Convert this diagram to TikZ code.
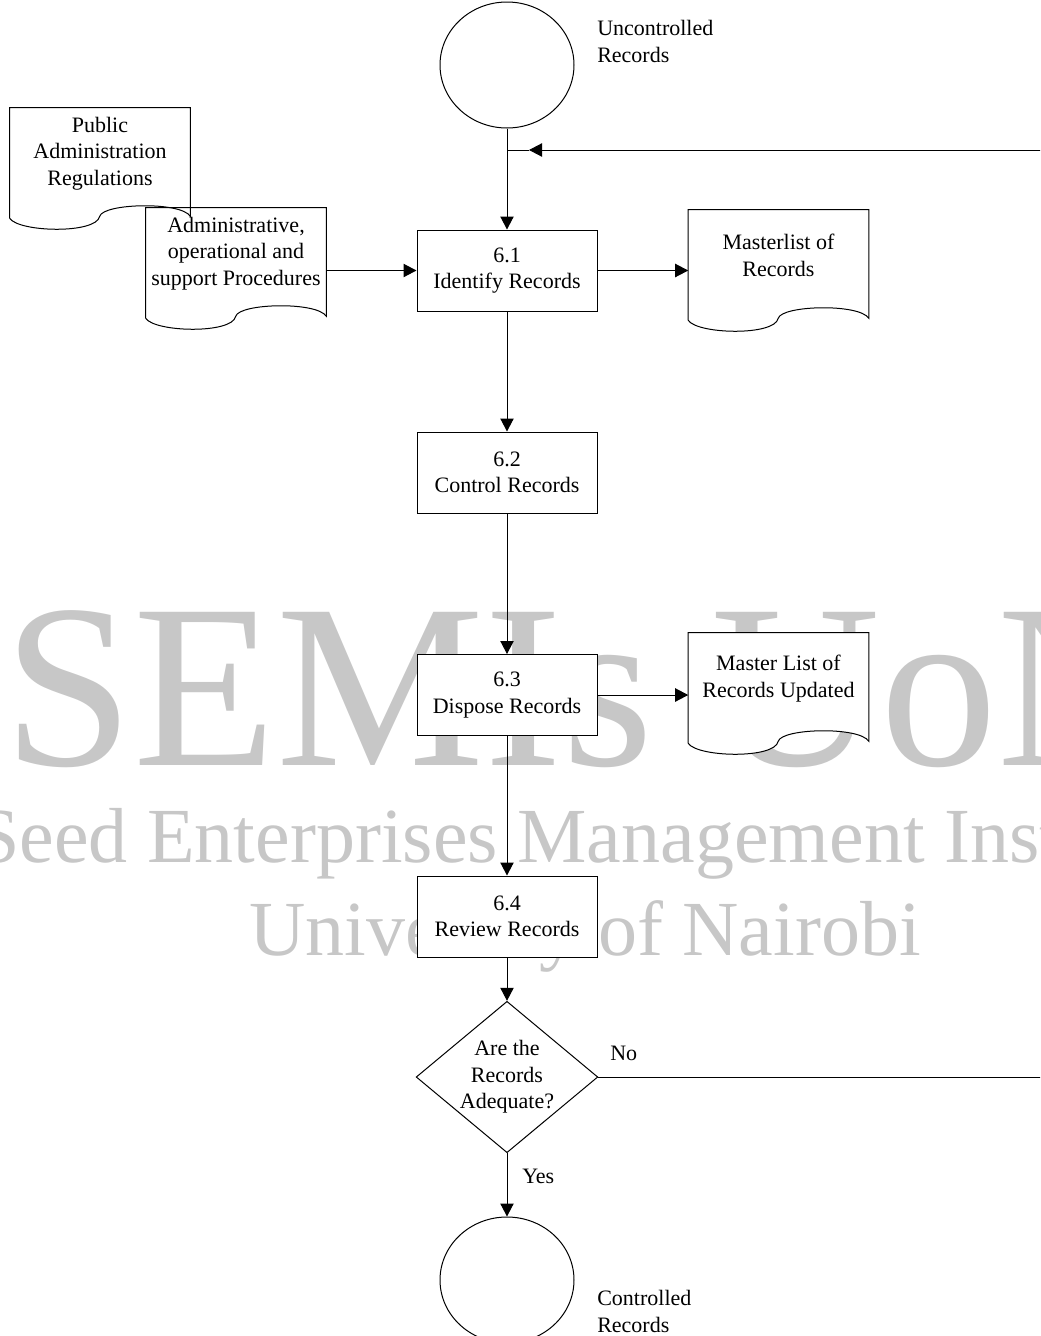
\documentclass[tikz,border=0pt]{standalone}
\usepackage{fontspec}
\setmainfont{Liberation Serif}
\usetikzlibrary{shapes.geometric,arrows.meta,calc,backgrounds}
\newcommand{\docPath}[1]{(#1.north west) -- (#1.north east)
  -- ($(#1.south east)+(0pt,-12.75pt)$)
  .. controls ($(#1.south west)+(128.25pt,-1.5pt)$) and ($(#1.south west)+(70.2pt,-3pt)$)
  .. ($(#1.south west)+(67.5pt,-12.75pt)$)
  .. controls ($(#1.south west)+(64.8pt,-26.25pt)$) and ($(#1.south west)+(6.75pt,-24.75pt)$)
  .. ($(#1.south west)+(0pt,-14.25pt)$) -- cycle}
\newcommand{\docOutline}[1]{%
  \begin{scope}[on background layer]\fill[white] \docPath{#1};\end{scope}
  \draw[thinline] \docPath{#1};}

\begin{document}
\begin{tikzpicture}[x=0.75pt, y=-0.75pt, font=\fontsize{16.5}{19.9}\selectfont]
  \tikzset{thinline/.style={line width=0.75pt},
           flow/.style={thinline, -{Triangle[length=9.75pt,width=10pt]}},
           procbox/.style={draw, thinline, fill=white, minimum width=135pt, minimum height=60.75pt, inner sep=0pt, align=center},
           docnode/.style={minimum width=135pt, minimum height=68.25pt, inner sep=0pt, align=center},
           terminal/.style={draw, thinline, fill=white, ellipse, minimum width=100.5pt, minimum height=94.5pt, inner sep=0pt},
           decision/.style={draw, thinline, fill=white, diamond, aspect=1.2, minimum width=135pt, minimum height=112.5pt, inner sep=0pt, align=center},
           note/.style={inner sep=0pt, anchor=west, align=left},
           watermark/.style={text=black!22, inner sep=0pt, anchor=base}}
  \useasboundingbox (0,0) rectangle (1040,1336);
  \clip (0,0) rectangle (1040,1336);
  \begin{scope}[on background layer]
    \node[watermark, font=\fontsize{175.5}{175.5}\selectfont] (semis) at (585,765) {SEMIs UoN};
    \node[watermark, font=\fontsize{58.5}{58.5}\selectfont] (seedline) at (588,862) {Seed Enterprises Management Institute};
    \node[watermark, font=\fontsize{58.5}{58.5}\selectfont] (uonline) at (585,955) {University of Nairobi};
  \end{scope}
  \node[terminal] (uncontrolled) at (507,65) {};
  \node[note] (uncontrolledtext) at (597,41.5) {Uncontrolled\\Records};
  \node[docnode] (regs) at (100,153.5) {Public\\Administration\\Regulations};
  \node[docnode] (procs) at (236,253.5) {Administrative,\\operational and\\support Procedures};
  \docOutline{regs}
  \docOutline{procs}
  \node[procbox] (identify) at (507,270.5) {6.1\\Identify Records};
  \node[docnode] (masterlist) at (778.5,255.5) {Masterlist of\\Records};
  \docOutline{masterlist}
  \node[procbox] (control) at (507,472.5) {6.2\\Control Records};
  \node[procbox] (dispose) at (507,695) {6.3\\Dispose Records};
  \node[docnode] (updated) at (778.5,678.5) {Master List of\\Records Updated};
  \docOutline{updated}
  \node[procbox] (review) at (507,916.5) {6.4\\Review Records};
  \node[decision] (adequate) at (507,1077) {Are the\\Records\\Adequate?};
  \node[note] (nolabel) at (610,1053) {No};
  \node[note] (yeslabel) at (522,1176) {Yes};
  \node[terminal] (controlled) at (507,1280) {};
  \node[note] (controlledtext) at (597,1311.5) {Controlled\\Records};
  \coordinate (rail) at (1052,0);
  \coordinate (join) at (507,150);
  \coordinate (backtip) at (529,150);
  \draw[flow] (uncontrolled.south) -- (identify.north);
  \draw[flow] (procs.east |- identify.west) -- (identify.west);
  \draw[flow] (identify.east) -- (identify.east -| masterlist.west);
  \draw[flow] (identify.south) -- (control.north);
  \draw[flow] (control.south) -- (dispose.north);
  \draw[flow] (dispose.east) -- (dispose.east -| updated.west);
  \draw[flow] (dispose.south) -- (review.north);
  \draw[flow] (review.south) -- (adequate.north);
  \draw[flow] (adequate.south) -- (controlled.north);
  \draw[flow] (adequate.east) -| (rail |- join) -- (backtip);
  \draw[thinline] (backtip) -- (join);
\end{tikzpicture}
\end{document}
